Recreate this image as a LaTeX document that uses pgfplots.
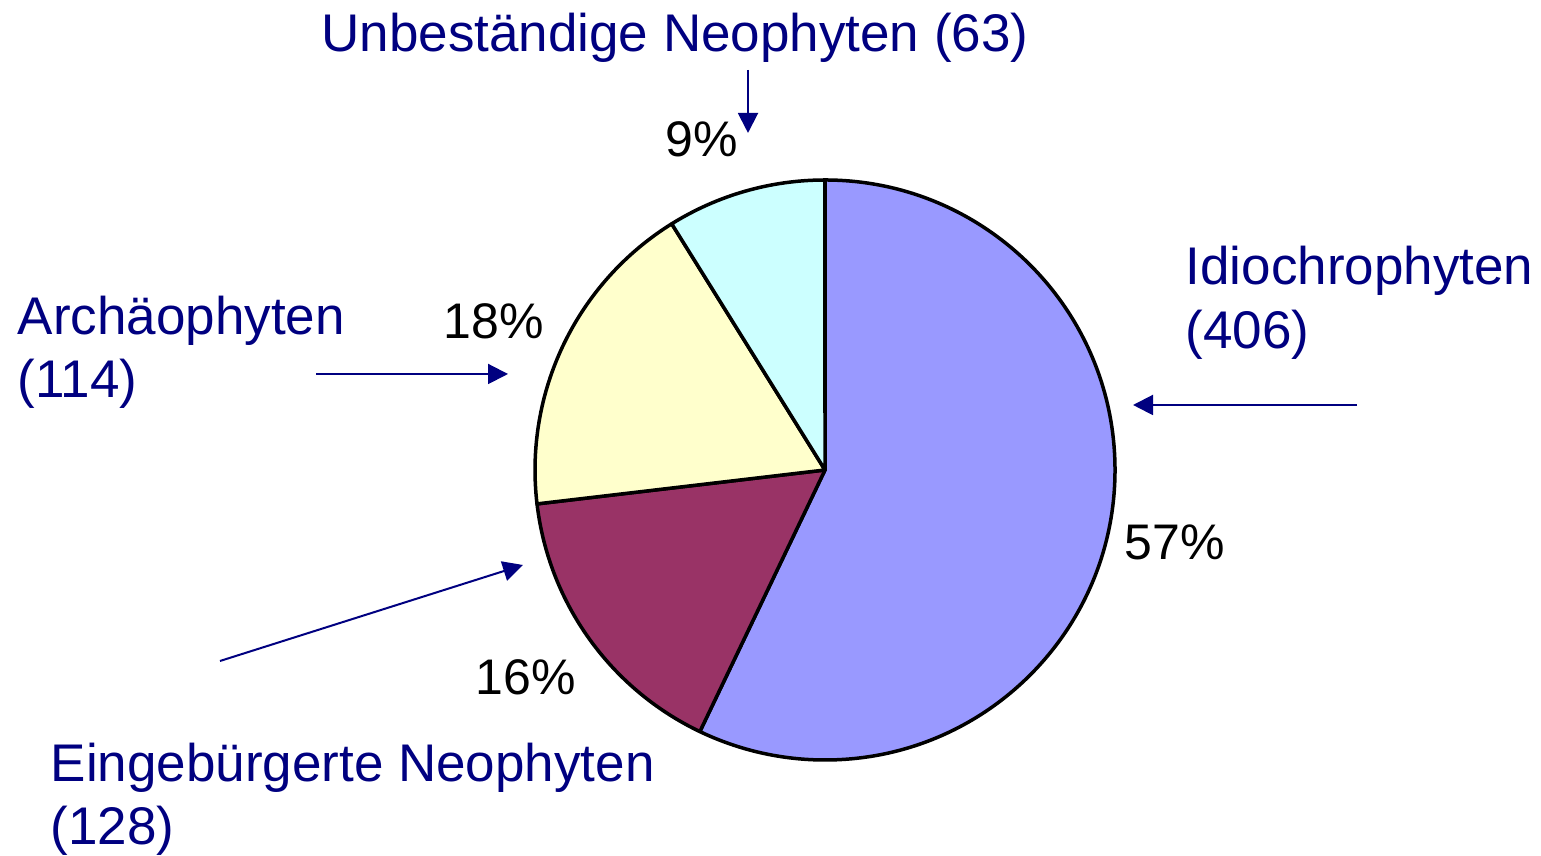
\documentclass[border=0pt]{standalone}
\usepackage{fontspec}
\setmainfont{Liberation Sans}
\usepackage{pgfplots}
\pgfplotsset{compat=1.18}
\usetikzlibrary{arrows.meta}

\definecolor{pBlue}{HTML}{9999FF}
\definecolor{pMaroon}{HTML}{993366}
\definecolor{pYellow}{HTML}{FFFFCC}
\definecolor{pCyan}{HTML}{CCFFFF}
\definecolor{navy}{HTML}{000080}

\begin{document}
\begin{tikzpicture}
\begin{axis}[
	x=0.3pt, y=0.3pt,
	xmin=0, xmax=1541, ymin=0, ymax=855,
	hide axis, clip=false, scale only axis,
	]
	\path (axis cs:0,0) rectangle (axis cs:1541,855);
	% slices clockwise from 12 o'clock (counts, total 711)
	\pgfplotsextra{
		\xdef\angA{90}
		\foreach \v/\c in {406/pBlue,114/pMaroon,128/pYellow,63/pCyan}{
			\pgfmathsetmacro\angB{\angA-\v/711*360}
			\pgfmathsetmacro\sx{825+290*cos(\angA)}
			\pgfmathsetmacro\sy{385+290*sin(\angA)}
			\filldraw[fill=\c, draw=black, line width=1.05pt, line join=round]
				(axis cs:825,385) -- (axis cs:\sx,\sy) arc[start angle=\angA, end angle=\angB, radius=87pt] -- cycle;
			\xdef\angA{\angB}
		}
	}
	% arrows
	\begin{scope}[navy, line width=0.6pt, -{Triangle[length=6pt,width=6pt]}]
		\draw (axis cs:748,785) -- (axis cs:748,722);
		\draw (axis cs:316,481) -- (axis cs:508,481);
		\draw (axis cs:1357,450) -- (axis cs:1133,450);
		\draw (axis cs:220,194) -- (axis cs:523,290);
	\end{scope}
	% labels
	\begin{scope}[every node/.style={inner sep=0pt, font=\fontsize{15.9}{18}\selectfont}]
		\node[navy, anchor=base] at (axis cs:675,803) {Unbeständige Neophyten (63)};
		\node[navy, anchor=base west] at (axis cs:17,520) {Archäophyten};
		\node[navy, anchor=base west] at (axis cs:17,457) {(114)};
		\node[navy, anchor=base west] at (axis cs:1185,570) {Idiochrophyten};
		\node[navy, anchor=base west] at (axis cs:1185,506) {(406)};
		\node[navy, anchor=base west] at (axis cs:50,73) {Eingebürgerte Neophyten};
		\node[navy, anchor=base west] at (axis cs:50,10) {(128)};
	\end{scope}
	\begin{scope}[every node/.style={inner sep=0pt, font=\fontsize{15}{18}\selectfont}]
		\node[anchor=base west] at (axis cs:665,698) {9\%};
		\node[anchor=base west] at (axis cs:443,516) {18\%};
		\node[anchor=base west] at (axis cs:1124,295) {57\%};
		\node[anchor=base west] at (axis cs:475,160) {16\%};
	\end{scope}
\end{axis}
\end{tikzpicture}
\end{document}
